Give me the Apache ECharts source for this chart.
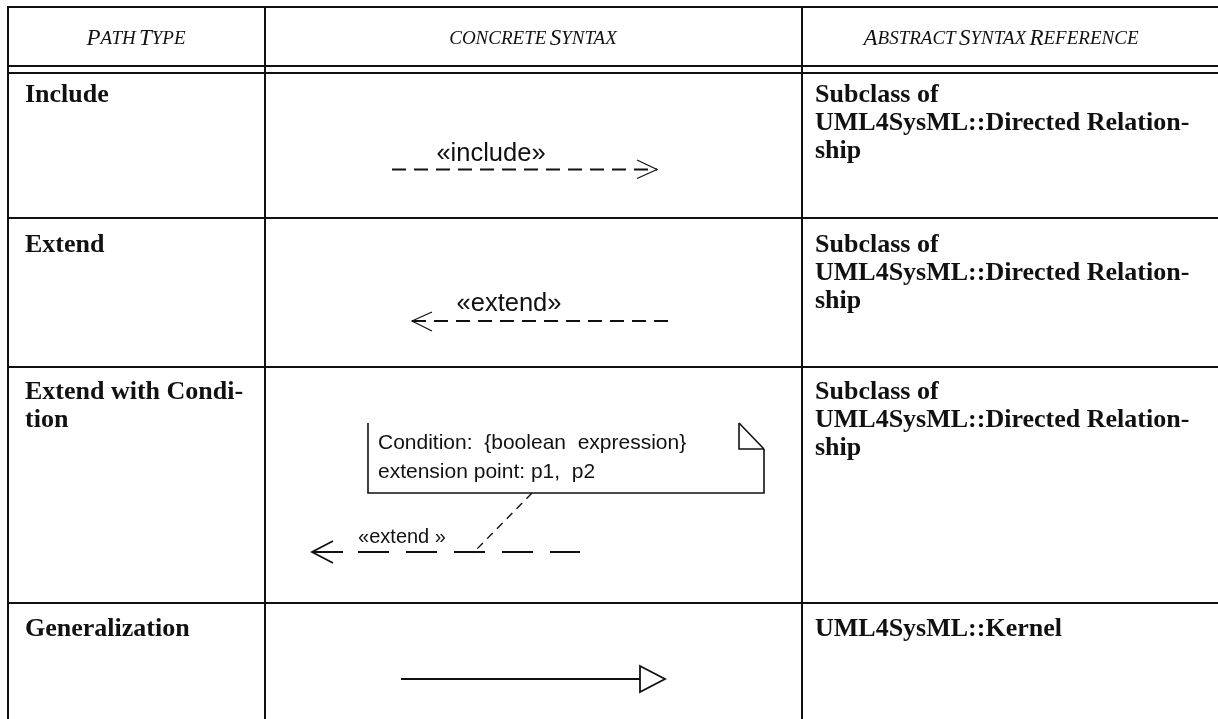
<!DOCTYPE html>
<html>
<head>
<meta charset="utf-8">
<script src="https://cdn.jsdelivr.net/npm/echarts@6/dist/echarts.min.js"></script>
<style>
html,body{margin:0;padding:0;background:#fff;}
#chart{width:1218px;height:719px;}
</style>
</head>
<body>
<div id="chart"></div>
<script>
// ---- content ----
const headerTexts = [
  '{b|P}{s|ATH} {b|T}{s|YPE}',
  '{s|CONCRETE} {b|S}{s|YNTAX}',
  '{b|A}{s|BSTRACT} {b|S}{s|YNTAX} {b|R}{s|EFERENCE}'
];
const pathTypes = ['Include', 'Extend', 'Extend with Condi-\ntion', 'Generalization'];
const abstractRefs = [
  'Subclass of\nUML4SysML::Directed Relation-\nship',
  'Subclass of\nUML4SysML::Directed Relation-\nship',
  'Subclass of\nUML4SysML::Directed Relation-\nship',
  'UML4SysML::Kernel'
];
const stereotypeLabels = ['«include»', '«extend»', '«extend »'];
const noteLines = ['Condition:  {boolean  expression}', 'extension point: p1,  p2'];

// ---- layout ----
const W = 1218, H = 719;
const leftX = 8;
const colX = [8, 265, 802];
const colCenters = [136, 533, 1001];
const topY = 7, headLine1 = 66, headLine2 = 73;
const rowTops = [73, 218, 367, 603];
const rowTextY = [95.5, 245, 392.5, 629];
const LH = 28;
const serif = "'Liberation Serif','Times New Roman',serif";
const sans = "'Liberation Sans',Arial,sans-serif";
const ink = '#111';

const els = [];
function line(x1, y1, x2, y2, w, dash) {
  els.push({type: 'line', shape: {x1, y1, x2, y2}, style: {stroke: ink, lineWidth: w, lineDash: dash || null}, silent: true});
}
function poly(points, w) {
  els.push({type: 'polyline', shape: {points}, style: {stroke: ink, lineWidth: w, fill: null}, silent: true});
}
function text(x, y, t, font, size, weight, align) {
  els.push({type: 'text', x, y, silent: true, style: {
    text: t, fill: ink, fontFamily: font, fontSize: size, fontWeight: weight || 'normal',
    align: align || 'left', verticalAlign: 'middle'
  }});
}
function block(x, yFirstMid, t, font, size, weight, lh) {
  els.push({type: 'text', x, y: yFirstMid - lh / 2, silent: true, style: {
    text: t, fill: ink, fontFamily: font, fontSize: size, fontWeight: weight || 'normal',
    align: 'left', verticalAlign: 'top', lineHeight: lh
  }});
}

// table rules
line(leftX, topY, W, topY, 2);
line(leftX, headLine1, W, headLine1, 2);
line(leftX, headLine2, W, headLine2, 2);
rowTops.slice(1).forEach(y => line(leftX, y, W, y, 2));
colX.forEach(x => line(x, topY - 1, x, H, 2));

// header
headerTexts.forEach((t, i) => {
  els.push({type: 'text', x: colCenters[i], y: 39, silent: true, style: {
    text: t, align: 'center', verticalAlign: 'middle', fill: ink,
    rich: {
      b: {fontFamily: serif, fontStyle: 'italic', fontSize: 23, fill: ink},
      s: {fontFamily: serif, fontStyle: 'italic', fontSize: 19, fill: ink}
    }
  }});
});

// first and third columns
pathTypes.forEach((t, i) => block(25, rowTextY[i], t, serif, 26, 'bold', LH));
abstractRefs.forEach((t, i) => block(815, rowTextY[i], t, serif, 26, 'bold', LH));

// Row 1: include
line(392, 169.5, 657, 169.5, 1.8, [14, 8]);
poly([[637, 160], [657, 169.5], [637, 178.5]], 1.2);
text(491, 154, stereotypeLabels[0], sans, 25.5, 'normal', 'center');

// Row 2: extend
line(412, 321, 673, 321, 1.8, [14, 8]);
poly([[432, 312], [412, 321], [432, 331]], 1.2);
text(509, 304, stereotypeLabels[1], sans, 25.5, 'normal', 'center');

// Row 3: extend with condition
poly([[368, 423], [368, 493], [764, 493], [764, 449]], 1.6);
poly([[739, 423], [739, 449], [764, 449]], 1.6);
line(739, 423, 764, 449, 1.6);
text(378, 443, noteLines[0], sans, 21, 'normal', 'left');
text(378, 472, noteLines[1], sans, 21, 'normal', 'left');
line(532, 493, 473, 553, 1.4, [8, 6]);
line(312, 552, 343, 552, 2);
poly([[333, 541], [312, 552], [333, 563]], 1.8);
line(358, 552, 580, 552, 2, [31, 17]);
text(402, 537, stereotypeLabels[2], sans, 20, 'normal', 'center');

// Row 4: generalization
line(401, 679, 640, 679, 1.8);
els.push({type: 'polygon', shape: {points: [[640, 666], [665, 679], [640, 692]]}, style: {stroke: ink, lineWidth: 1.8, fill: '#fff'}, silent: true});

const chart = echarts.init(document.getElementById('chart'), null, {renderer: 'canvas'});
chart.setOption({backgroundColor: '#fff', animation: false, graphic: {elements: els}});
</script>
</body>
</html>
